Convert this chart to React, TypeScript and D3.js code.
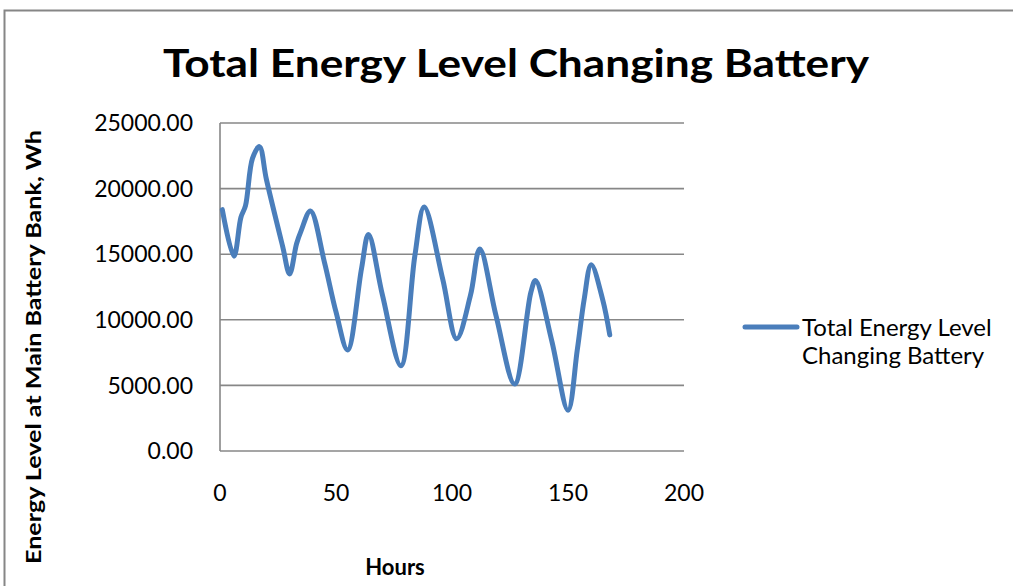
import React from "react";
import * as d3 from "d3";

// Hourly readings of the main battery bank energy level (Wh)
const hours = [1, 6, 9, 11, 14, 17, 20, 27, 30, 33, 35, 39, 45, 50, 55, 61, 64, 70, 78, 84, 88, 96, 102, 108, 112, 119, 127, 134, 136, 143, 150, 154, 157, 160, 165, 168];
const energy = [18400, 14850, 17800, 18700, 22300, 23200, 20700, 15600, 13500, 15800, 16800, 18300, 14400, 10600, 7700, 13900, 16500, 11900, 6500, 14900, 18600, 13100, 8550, 11900, 15400, 10300, 5100, 12100, 13000, 8400, 3100, 7700, 11600, 14200, 11500, 8850];

const xTicks = [0, 50, 100, 150, 200];
const yTicks = [0, 5000, 10000, 15000, 20000, 25000];

const title = "Total Energy Level Changing Battery";
const xTitle = "Hours";
const yTitle = "Energy Level at Main Battery Bank, Wh";
const seriesName = ["Total Energy Level", "Changing Battery"];

const W = 1013;
const H = 586;
const plot = { left: 220, right: 684, top: 123, bottom: 451 };
const FONT = "Lato, 'Open Sans', sans-serif";
const LINE = "#4a7ebb";
const GRID = "#878787";

export default function App() {
  const x = d3.scaleLinear().domain([0, 200]).range([plot.left, plot.right]);
  const y = d3.scaleLinear().domain([0, 25000]).range([plot.bottom, plot.top]);

  const points: [number, number][] = hours.map((h, i) => [h, energy[i]]);
  const path = d3
    .line<[number, number]>()
    .x((d) => x(d[0]))
    .y((d) => y(d[1]))
    .curve(d3.curveCatmullRom.alpha(0.5))(points) as string;

  return (
    <svg
      width={W}
      height={H}
      viewBox={`0 0 ${W} ${H}`}
      style={{ position: "absolute", left: 0, top: 0, background: "#fff" }}
    >
      <rect x={4.5} y={10.5} width={1040} height={620} fill="#fff" stroke="#868686" strokeWidth={2} />

      <text
        x={516}
        y={77}
        textAnchor="middle"
        fontFamily={FONT}
        fontWeight={700}
        fontSize={39}
        textLength={706}
        lengthAdjust="spacingAndGlyphs"
        fill="#000"
      >
        {title}
      </text>

      {/* gridlines */}
      {yTicks.map((t) => (
        <line key={t} x1={plot.left} x2={plot.right} y1={y(t)} y2={y(t)} stroke={GRID} strokeWidth={1.6} />
      ))}
      <line x1={plot.left} x2={plot.left} y1={plot.top} y2={plot.bottom} stroke={GRID} strokeWidth={1.6} />

      {/* y tick labels */}
      {yTicks.map((t) => (
        <text
          key={t}
          x={193}
          y={y(t)}
          dy="0.36em"
          textAnchor="end"
          fontFamily={FONT}
          fontSize={23}
          fill="#000"
        >
          {d3.format(".2f")(t)}
        </text>
      ))}

      {/* x tick labels */}
      {xTicks.map((t) => (
        <text
          key={t}
          x={x(t)}
          y={501}
          textAnchor="middle"
          fontFamily={FONT}
          fontSize={23}
          fill="#000"
        >
          {t}
        </text>
      ))}

      <text x={395} y={575} textAnchor="middle" fontFamily={FONT} fontWeight={700} fontSize={22} fill="#000">
        {xTitle}
      </text>

      <text
        transform={`translate(41,347) rotate(-90)`}
        textAnchor="middle"
        fontFamily={FONT}
        fontWeight={700}
        fontSize={21}
        textLength={434}
        lengthAdjust="spacingAndGlyphs"
        fill="#000"
      >
        {yTitle}
      </text>

      {/* series */}
      <path d={path} fill="none" stroke={LINE} strokeWidth={5} strokeLinecap="round" strokeLinejoin="round" />

      {/* legend */}
      <line x1={745} x2={797} y1={327} y2={327} stroke={LINE} strokeWidth={5} strokeLinecap="round" />
      <text fontFamily={FONT} fontSize={24} fill="#000">
        <tspan x={802} y={336}>{seriesName[0]}</tspan>
        <tspan x={802} y={364}>{seriesName[1]}</tspan>
      </text>
    </svg>
  );
}
